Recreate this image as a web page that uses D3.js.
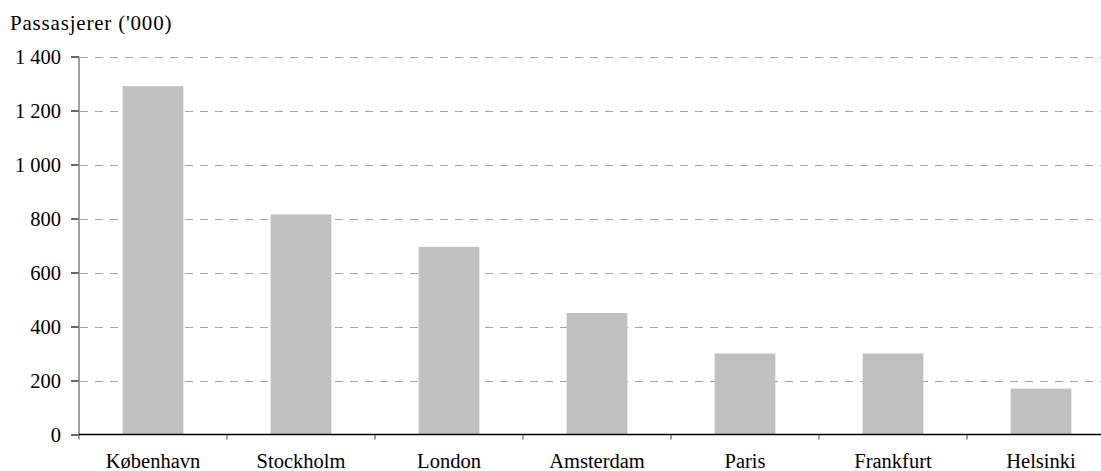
<!DOCTYPE html>
<html>
<head>
<meta charset="utf-8">
<script src="https://cdn.jsdelivr.net/npm/d3@7"></script>
<style>
  html, body { margin: 0; padding: 0; background: #fff; overflow: hidden; }
  text { font-family: "Liberation Serif", "Times New Roman", serif; fill: #000; }
</style>
</head>
<body>
<svg id="chart" width="1101" height="471"></svg>
<script>
const categories = ["København", "Stockholm", "London", "Amsterdam", "Paris", "Frankfurt", "Helsinki"];
const values = [1290, 815, 695, 450, 300, 300, 170];
const yTicks = [0, 200, 400, 600, 800, 1000, 1200, 1400];
const yTitle = "Passasjerer ('000)";

(function () {
const svg = d3.select("#chart");
const mLeft = 79, mRight = 1115, mTop = 56.5, mBottom = 434.5;
const serif = "'Liberation Serif', 'Times New Roman', serif";

const x = d3.scaleBand().domain(categories).range([mLeft, mRight]).paddingInner(0.59).paddingOuter(0.295);
const xOuter = d3.scaleBand().domain(categories).range([mLeft, mRight]).padding(0);
const y = d3.scaleLinear().domain([0, 1400]).range([mBottom, mTop]);

const fmt = v => d3.format(",")(v).replace(/,/g, " ");

// gridlines
svg.append("g").selectAll("line").data(yTicks.filter(d => d > 0)).join("line")
  .attr("x1", mLeft + 1).attr("x2", 1101)
  .attr("y1", d => Math.round(y(d)) + 0.5).attr("y2", d => Math.round(y(d)) + 0.5)
  .attr("stroke", "#a6a6a6").attr("stroke-width", 1.2).attr("stroke-dasharray", "8,7");

// bars
svg.append("g").selectAll("rect").data(values).join("rect")
  .attr("x", (d, i) => x(categories[i]))
  .attr("width", x.bandwidth())
  .attr("y", d => y(d))
  .attr("height", d => y(0) - y(d))
  .attr("fill", "#c0c0c0");

// y axis
const yAxis = d3.axisLeft(y).tickValues(yTicks).tickFormat(fmt).tickSize(8).tickPadding(10);
const gy = svg.append("g").attr("transform", `translate(${mLeft},0)`).call(yAxis);
gy.attr("font-family", null).attr("font-size", null);
gy.select(".domain").remove();
gy.selectAll(".tick line").attr("stroke", "#000").attr("stroke-width", 1.2);
gy.selectAll(".tick text").style("font-size", "20.5px").style("font-family", serif).attr("fill", "#000");
svg.append("line").attr("x1", mLeft).attr("x2", mLeft).attr("y1", mTop).attr("y2", mBottom + 5)
  .attr("stroke", "#808080").attr("stroke-width", 1.5);

// x axis
const boundaries = categories.map(c => xOuter(c)).concat([mRight]);
svg.append("g").selectAll("line").data(boundaries.slice(1)).join("line")
  .attr("x1", d => d).attr("x2", d => d).attr("y1", mBottom).attr("y2", mBottom + 5)
  .attr("stroke", "#808080").attr("stroke-width", 1.5);
svg.append("line").attr("x1", mLeft).attr("x2", 1101).attr("y1", mBottom).attr("y2", mBottom)
  .attr("stroke", "#000").attr("stroke-width", 1.5);

const xAxis = d3.axisBottom(xOuter).tickSize(0).tickPadding(0);
const gx = svg.append("g").attr("transform", `translate(0,${mBottom})`).call(xAxis);
gx.attr("font-family", null).attr("font-size", null);
gx.select(".domain").remove();
gx.selectAll(".tick text").attr("dy", null).attr("y", 33).style("font-size", "20.5px").style("font-family", serif).attr("fill", "#000");

// y title
svg.append("text").attr("x", 10).attr("y", 30).style("font-size", "21px").style("font-family", serif)
  .style("letter-spacing", "0.8px").text(yTitle);
})();
</script>
</body>
</html>
